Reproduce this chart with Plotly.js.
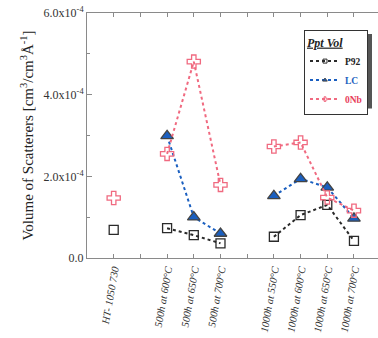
<!DOCTYPE html>
<html><head><meta charset="utf-8">
<script src="https://cdn.plot.ly/plotly-3.0.1.min.js"></script>
<style>body{margin:0;background:#fff}#plot{width:378px;height:338px}</style>
</head><body><div id="plot"></div>
<script>
var categories = ["HT- 1050 730", " ", "500h at 600°C", "500h at 650°C", "500h at 700°C", "  ", "1000h at 550°C", "1000h at 600°C", "1000h at 650°C", "1000h at 700°C"];
var p92 = [0.69e-4, null, 0.73e-4, 0.56e-4, 0.36e-4, null, 0.52e-4, 1.05e-4, 1.30e-4, 0.42e-4];
var lc  = [null, null, 2.99e-4, 1.00e-4, 0.60e-4, null, 1.52e-4, 1.94e-4, 1.73e-4, 0.97e-4];
var onb = [1.47e-4, null, 2.55e-4, 4.81e-4, 1.79e-4, null, 2.73e-4, 2.83e-4, 1.48e-4, 1.16e-4];
var seriesNames = ["P92", "LC", "0Nb"];
var yTickVals = [0, 2e-4, 4e-4, 6e-4];
var yTickText = ["0.0", "2.0x10<sup>-4</sup>", "4.0x10<sup>-4</sup>", "6.0x10<sup>-4</sup>"];

var serif = "Liberation Serif, Times New Roman, serif";
var colors = ['#2a2a2a', '#1a5fc0', '#f06a80'];
var textColors = ['#222', '#1a5fc0', '#e8405a'];
var symbols = ['square-open', 'triangle-up', 'cross-open'];
var sizes = [9, 11, 11];
var data = [p92, lc, onb];
var traces = [];
for (var i = 0; i < 3; i++) {
  traces.push({x: categories, y: data[i], name: seriesNames[i], mode: 'lines+markers', connectgaps: false,
    showlegend: false,
    line: {color: colors[i], dash: 'dot', width: 2},
    marker: {symbol: symbols[i], size: sizes[i], color: colors[i], line: {width: 1.3}}});
}
for (var i = 0; i < 3; i++) {
  traces.push({x: [null], y: [null], mode: 'lines+markers', showlegend: true,
    name: '<b><span style="color:' + textColors[i] + '">' + seriesNames[i] + '</span></b>',
    line: {color: colors[i], dash: 'dot', width: 2},
    marker: {symbol: symbols[i], size: 4, color: colors[i], line: {width: 1}}});
}
function px(p) { return (p - 87) / 291; }
function py(p) { return (258 - p) / 245; }
var layout = {
  width: 378, height: 338,
  margin: {l: 87, r: 0, t: 13, b: 80},
  paper_bgcolor: '#fff', plot_bgcolor: '#fff',
  font: {family: serif, size: 10, color: '#222'},
  showlegend: true,
  legend: {x: px(368), y: py(30), xanchor: 'right', yanchor: 'top',
    bgcolor: '#fff', bordercolor: '#333', borderwidth: 1,
    font: {family: serif, size: 9.5, color: '#222'},
    title: {text: '<b><i><u>Ppt Vol</u></i></b>', font: {family: serif, size: 12}},
    tracegroupgap: 0, itemwidth: 30},
  shapes: [{type: 'rect', xref: 'paper', yref: 'paper',
    x0: px(306), x1: px(372), y0: py(108.5), y1: py(34),
    fillcolor: '#555', line: {width: 0}, layer: 'above'}],
  xaxis: {type: 'category', categoryorder: 'array', categoryarray: categories,
    range: [-1, 9.9], showgrid: false, zeroline: false,
    showline: true, linecolor: '#8a8a8a', linewidth: 1, mirror: 'ticks',
    ticks: 'inside', ticklen: 4, tickcolor: '#8a8a8a', tickangle: -80,
    tickfont: {family: serif, size: 10.5, color: '#333', style: 'italic'}},
  yaxis: {range: [0, 6e-4], tickmode: 'array', tickvals: yTickVals, ticktext: yTickText,
    showgrid: false, zeroline: false, showline: true, linecolor: '#8a8a8a', linewidth: 1,
    ticks: 'inside', ticklen: 5, tickcolor: '#8a8a8a',
    minor: {tickmode: 'array', tickvals: [1e-4, 3e-4, 5e-4], ticks: 'inside', ticklen: 3, tickcolor: '#8a8a8a'},
    tickfont: {family: serif, size: 12, color: '#333'},
    title: {text: 'Volume of Scatterers [cm<sup>3</sup>/cm<sup>3</sup>Å<sup>-1</sup>]', font: {family: serif, size: 15, color: '#222'}, standoff: 6}}
};
Plotly.newPlot('plot', traces, layout, {displayModeBar: false, staticPlot: true});
</script></body></html>
